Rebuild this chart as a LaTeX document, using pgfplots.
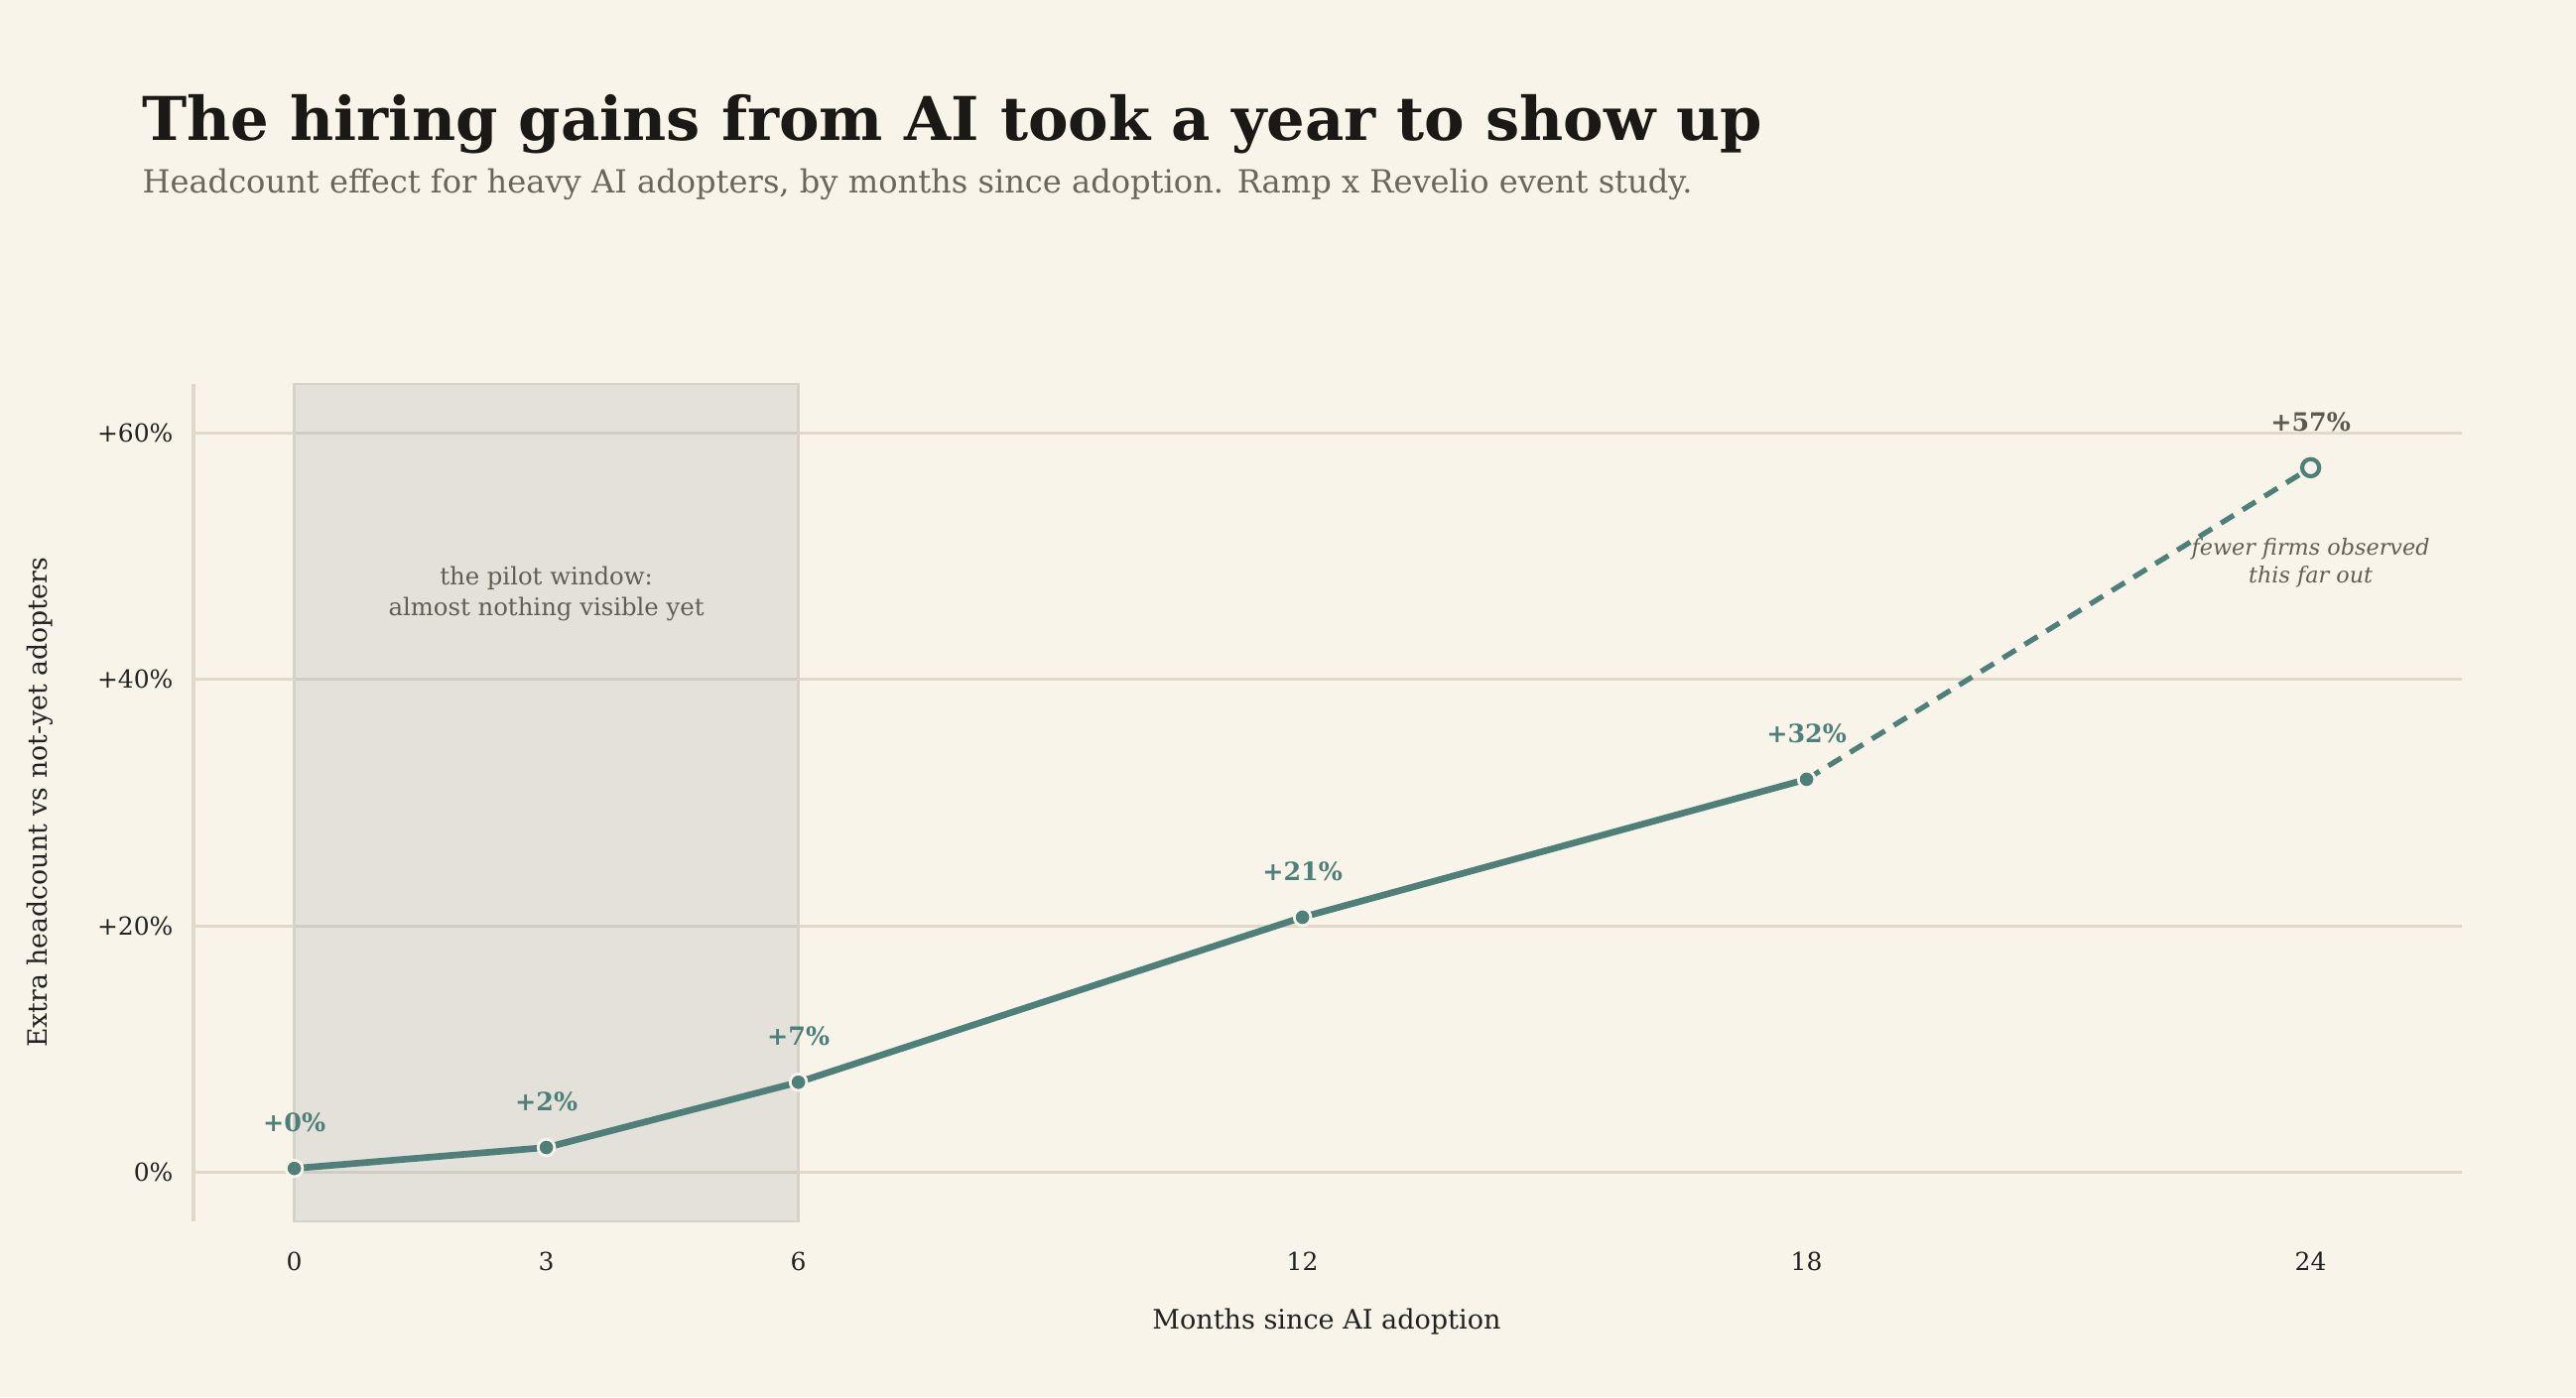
\documentclass[border=0pt]{standalone}
\usepackage{fontspec}
\setmainfont{DejaVu Serif}
\usepackage{pgfplots}
\pgfplotsset{compat=1.18}
\definecolor{bg}{HTML}{F8F4EA}
\definecolor{tealc}{HTML}{4E7F78}
\definecolor{gridc}{HTML}{E0D8C9}
\definecolor{shadeedge}{HTML}{D6D2C5}
\definecolor{shadec}{HTML}{A8ACAA}
\definecolor{titlec}{HTML}{1A1915}
\definecolor{subc}{HTML}{6B665B}
\definecolor{notec}{HTML}{625E54}
\definecolor{tickc}{HTML}{222222}
\definecolor{labc}{HTML}{5E594D}
\newsavebox\fitbox
\newlength\fitlen
\newcommand\fitsize[3]{\sbox\fitbox{\fontsize{10}{12}\selectfont #3}\setlength\fitlen{\wd\fitbox}\pgfmathsetmacro#1{10*#2/\the\fitlen}}
\newcommand\fsz[1]{\fontsize{#1}{#1}\selectfont}
\begin{document}%
\fitsize\fsTitle{587.8}{\bfseries The hiring gains from AI took a year to show up}%
\fitsize\fsSub{562.3}{Headcount effect for heavy AI adopters, by months since adoption. Ramp x Revelio event study.}%
\fitsize\fsY{177.8}{Extra headcount vs not-yet adopters}%
\fitsize\fsX{126.4}{Months since AI adoption}%
\fitsize\fsNote{114.5}{almost nothing visible yet}%
\fitsize\fsIt{86.4}{\itshape fewer firms observed}%
\fitsize\fsTick{27.5}{+60\%}%
\fitsize\fsVal{29.0}{\bfseries +32\%}%
\begin{tikzpicture}
\fill[bg] (0,0) rectangle (934.56pt,506.88pt);
\useasboundingbox (0,0) rectangle (934.56pt,506.88pt);
\node[anchor=base west, inner sep=0pt, font={\fsz{\fsTitle}\bfseries}, text=titlec] at (51.48pt,455.76pt) {The hiring gains from AI took a year to show up};
\node[anchor=base west, inner sep=0pt, font={\fsz{\fsSub}}, text=subc] at (51.48pt,436.68pt) {Headcount effect for heavy AI adopters, by months since adoption. Ramp x Revelio event study.};
\node[rotate=90, anchor=center, inner sep=0pt, font={\fsz{\fsY}}, text=tickc] at (14.4pt,215.64pt) {Extra headcount vs not-yet adopters};
\node[anchor=base, inner sep=0pt, font={\fsz{\fsX}}, text=tickc] at (481.3pt,24.84pt) {Months since AI adoption};
\begin{axis}[
  at={(70.2pt,63.72pt)}, anchor=south west,
  scale only axis, width=822.96pt, height=303.84pt,
  xmin=-1.2, xmax=25.8, ymin=-4, ymax=64,
  separate axis lines,
  axis x line*=bottom, axis y line*=left,
  x axis line style={draw=none},
  y axis line style={draw=gridc, line width=1.1pt},
  xtick={0,3,6,12,18,24},
  ytick={0,20,40,60},
  yticklabels={0\%,+20\%,+40\%,+60\%},
  major tick length=0pt, tick style={draw=none},
  ymajorgrids, grid style={gridc, line width=1pt},
  /pgf/number format/assume math mode=true,
  tick label style={font={\fsz{\fsTick}}, text=tickc},
  xticklabel style={anchor=center, yshift=-14.4pt},
  yticklabel style={anchor=east, inner sep=0pt, xshift=-7.2pt},
  clip=false,
]
\fill[shadec, fill opacity=0.25] (axis cs:0,-4) rectangle (axis cs:6,64);
\draw[shadeedge, line width=0.8pt] (axis cs:0,-4) rectangle (axis cs:6,64);
\node[anchor=base, inner sep=0pt, font={\fsz{\fsNote}}, text=notec] at (axis cs:3,47.7) {the pilot window:};
\node[anchor=base, inner sep=0pt, font={\fsz{\fsNote}}, text=notec] at (axis cs:3,45.15) {almost nothing visible yet};
\node[anchor=base, inner sep=0pt, font={\fsz{\fsIt}\itshape}, text=notec] at (axis cs:24,50.12) {fewer firms observed};
\node[anchor=base, inner sep=0pt, font={\fsz{\fsIt}\itshape}, text=notec] at (axis cs:24,47.86) {this far out};
\addplot[tealc, line width=1.9pt, dash pattern=on 5.5pt off 3.8pt, forget plot] coordinates {(18,31.9) (24,57.2)};
\addplot[tealc, line width=2.4pt, mark=*, mark size=3pt,
  mark options={fill=tealc, draw=bg, line width=1pt, solid},
  nodes near coords, point meta=explicit symbolic,
  every node near coord/.style={anchor=center, yshift=16.56pt, font={\fsz{\fsVal}\bfseries}, text=tealc}]
  coordinates {(0,0.3) [+0\%] (3,2.0) [+2\%] (6,7.3) [+7\%] (12,20.7) [+21\%] (18,31.9) [+32\%]};
\addplot[only marks, mark=*, mark size=3.1pt,
  mark options={fill=bg, draw=tealc, line width=1.5pt},
  nodes near coords, point meta=explicit symbolic,
  every node near coord/.style={anchor=center, yshift=16.56pt, font={\fsz{\fsVal}\bfseries}, text=labc}]
  coordinates {(24,57.2) [+57\%]};
\end{axis}
\end{tikzpicture}%
\end{document}
